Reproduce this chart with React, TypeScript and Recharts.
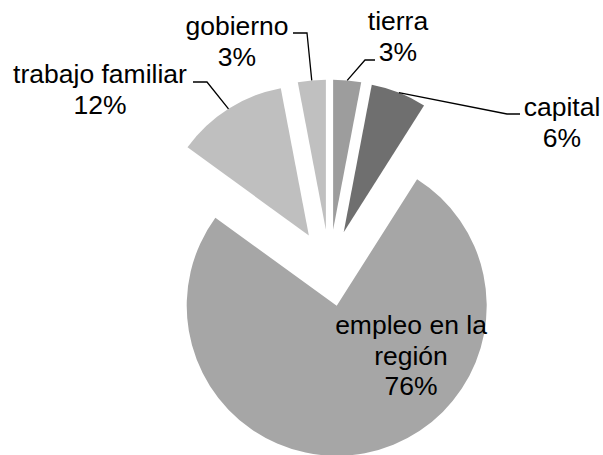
import { PieChart, Pie, Cell, Sector } from "recharts";

const categories = ["tierra", "capital", "empleo en la región", "trabajo familiar", "gobierno"];
const shares = [3, 6, 76, 12, 3];
const sliceColors = ["#9d9d9d", "#6f6f6f", "#a6a6a6", "#bfbfbf", "#c0c0c0"];

const pieData = categories.map((name, i) => ({ name, value: shares[i] }));

const EXPLODE = 38.5;
const FONT = 26.5;
const LINE = 30.5;

// where each label sits (Excel "best fit" look); leader starts at the slice arc midpoint
const labelLayout: Record<string, { x: number; y: number; lines: string[]; leader?: number[][] }> = {
  tierra: { x: 398, y: 30, lines: ["tierra"], leader: [[365, 60], [375, 60]] },
  capital: { x: 562, y: 116, lines: ["capital"], leader: [[507, 114], [520, 114]] },
  "empleo en la región": { x: 411, y: 334, lines: ["empleo en la", "región"] },
  "trabajo familiar": { x: 100, y: 83, lines: ["trabajo familiar"], leader: [[207, 82], [193, 82]] },
  gobierno: { x: 237, y: 35, lines: ["gobierno"], leader: [[307, 33], [293, 33]] },
};

const explodedCenter = (cx: number, cy: number, midAngle: number) => {
  const rad = (midAngle * Math.PI) / 180;
  return { x: cx + EXPLODE * Math.cos(rad), y: cy - EXPLODE * Math.sin(rad), rad };
};

const renderSlice = (props: any) => {
  const { cx, cy, midAngle, innerRadius, outerRadius, startAngle, endAngle, fill } = props;
  const c = explodedCenter(cx, cy, midAngle);
  return (
    <Sector
      cx={c.x}
      cy={c.y}
      innerRadius={innerRadius}
      outerRadius={outerRadius}
      startAngle={startAngle}
      endAngle={endAngle}
      fill={fill}
      stroke="none"
    />
  );
};

const renderLabel = (props: any) => {
  const { cx, cy, midAngle, outerRadius, percent, name, index } = props;
  const layout = labelLayout[name];
  const c = explodedCenter(cx, cy, midAngle);
  const sx = c.x + outerRadius * Math.cos(c.rad);
  const sy = c.y - outerRadius * Math.sin(c.rad);
  const lines = [...layout.lines, `${Math.round(percent * 100)}%`];
  return (
    <g key={`label-${index}`}>
      {layout.leader && (
        <polyline
          points={[[sx, sy], ...layout.leader].map((p) => p.join(",")).join(" ")}
          fill="none"
          stroke="#000"
          strokeWidth={1.3}
        />
      )}
      <text
        x={layout.x}
        y={layout.y}
        textAnchor="middle"
        fontFamily="'Liberation Sans', Arial, sans-serif"
        fontSize={FONT}
        fill="#000"
      >
        {lines.map((l, i) => (
          <tspan key={i} x={layout.x} dy={i === 0 ? 0 : LINE}>
            {l}
          </tspan>
        ))}
      </text>
    </g>
  );
};

export default function App() {
  return (
    <div style={{ position: "fixed", left: 0, top: 0, width: 603, height: 455, background: "#fff" }}>
      <PieChart width={603} height={455} margin={{ top: 0, right: 0, bottom: 0, left: 0 }}>
        <Pie
          data={pieData}
          dataKey="value"
          nameKey="name"
          cx={329.5}
          cy={268}
          outerRadius={150}
          startAngle={90}
          endAngle={-270}
          stroke="none"
          shape={renderSlice}
          label={renderLabel}
          labelLine={false}
          isAnimationActive={false}
        >
          {pieData.map((d, i) => (
            <Cell key={d.name} fill={sliceColors[i]} />
          ))}
        </Pie>
      </PieChart>
    </div>
  );
}
